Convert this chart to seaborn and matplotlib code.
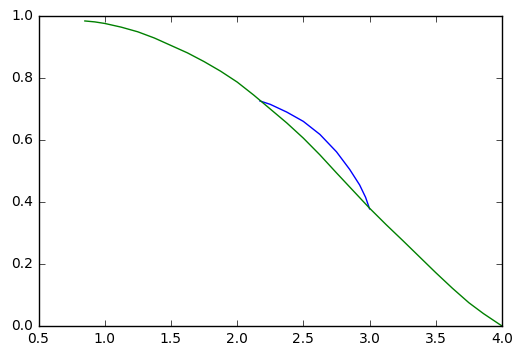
import matplotlib
matplotlib.use("Agg")
import matplotlib.pyplot as plt
import seaborn as sns
import pandas as pd

# Green curve
green_x = [0.85, 0.925, 1.0, 1.125, 1.25, 1.375, 1.5, 1.625, 1.75, 1.875, 2.0, 2.125,
           2.25, 2.375, 2.5, 2.625, 2.75, 2.875, 3.0, 3.125, 3.25, 3.375, 3.5, 3.625,
           3.75, 3.86, 4.0]
green_y = [0.984, 0.981, 0.976, 0.964, 0.949, 0.929, 0.905, 0.881, 0.853, 0.822, 0.787, 0.745,
           0.700, 0.655, 0.606, 0.552, 0.494, 0.437, 0.380, 0.327, 0.276, 0.224, 0.172, 0.122,
           0.075, 0.040, 0.0]

# Blue arc
blue_x = [2.172, 2.25, 2.375, 2.5, 2.625, 2.75, 2.85, 2.925, 2.97, 3.0]
blue_y = [0.726, 0.715, 0.690, 0.660, 0.618, 0.562, 0.505, 0.455, 0.415, 0.378]

x_ticks = [0.5, 1.0, 1.5, 2.0, 2.5, 3.0, 3.5, 4.0]
y_ticks = [0.0, 0.2, 0.4, 0.6, 0.8, 1.0]

plt.style.use("classic")
plt.rcParams["font.family"] = ["DejaVu Sans"]

fig = plt.figure(figsize=(5.23, 3.56), dpi=100, facecolor="white")
ax = fig.add_axes([38.5 / 523, 30 / 356, (502 - 38.5) / 523, (326 - 16) / 356])

blue_df = pd.DataFrame({"x": blue_x, "y": blue_y})
green_df = pd.DataFrame({"x": green_x, "y": green_y})

sns.lineplot(data=blue_df, x="x", y="y", sort=False, estimator=None, color=(0, 0, 1), linewidth=1.0, ax=ax)
sns.lineplot(data=green_df, x="x", y="y", sort=False, estimator=None, color=(0, 0.5, 0), linewidth=1.0, ax=ax)

ax.set_xlim(0.5, 4.0)
ax.set_ylim(0.0, 1.0)
ax.set_xticks(x_ticks)
ax.set_yticks(y_ticks)
ax.set_xticklabels([f"{v:.1f}" for v in x_ticks])
ax.set_yticklabels([f"{v:.1f}" for v in y_ticks])
ax.set_xlabel("")
ax.set_ylabel("")
ax.tick_params(direction="in", top=True, right=True, labelsize=10)
ax.set_facecolor("white")

fig.savefig("out.png", dpi=100, facecolor="white")
